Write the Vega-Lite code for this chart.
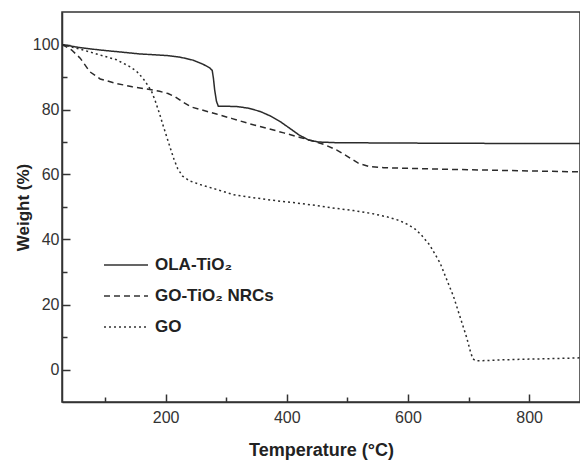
{
  "$schema": "https://vega.github.io/schema/vega-lite/v6.json",
  "autosize": {"type": "none"},
  "padding": {"left": 62, "top": 12, "right": 0, "bottom": 60},
  "width": 518,
  "height": 390,
  "background": "white",
  "config": {
    "view": {"stroke": "#333333", "strokeWidth": 1.5},
    "font": "Liberation Sans"
  },
  "data": {
    "values": [
      {"T": 29, "W": 100, "s": "OLA-TiO₂"},
      {"T": 60, "W": 99.0, "s": "OLA-TiO₂"},
      {"T": 92, "W": 98.3, "s": "OLA-TiO₂"},
      {"T": 125, "W": 97.7, "s": "OLA-TiO₂"},
      {"T": 157, "W": 97.1, "s": "OLA-TiO₂"},
      {"T": 185, "W": 96.8, "s": "OLA-TiO₂"},
      {"T": 202, "W": 96.6, "s": "OLA-TiO₂"},
      {"T": 224, "W": 96.1, "s": "OLA-TiO₂"},
      {"T": 245, "W": 95.2, "s": "OLA-TiO₂"},
      {"T": 262, "W": 93.9, "s": "OLA-TiO₂"},
      {"T": 273, "W": 92.8, "s": "OLA-TiO₂"},
      {"T": 277, "W": 92.0, "s": "OLA-TiO₂"},
      {"T": 279, "W": 89.5, "s": "OLA-TiO₂"},
      {"T": 281, "W": 86, "s": "OLA-TiO₂"},
      {"T": 284, "W": 82.5, "s": "OLA-TiO₂"},
      {"T": 287, "W": 81.0, "s": "OLA-TiO₂"},
      {"T": 300, "W": 81.0, "s": "OLA-TiO₂"},
      {"T": 318, "W": 80.9, "s": "OLA-TiO₂"},
      {"T": 337, "W": 80.4, "s": "OLA-TiO₂"},
      {"T": 356, "W": 79.4, "s": "OLA-TiO₂"},
      {"T": 373, "W": 78.0, "s": "OLA-TiO₂"},
      {"T": 389, "W": 76.3, "s": "OLA-TiO₂"},
      {"T": 405, "W": 74.2, "s": "OLA-TiO₂"},
      {"T": 420, "W": 72.2, "s": "OLA-TiO₂"},
      {"T": 436, "W": 70.6, "s": "OLA-TiO₂"},
      {"T": 452, "W": 70.0, "s": "OLA-TiO₂"},
      {"T": 480, "W": 69.8, "s": "OLA-TiO₂"},
      {"T": 560, "W": 69.7, "s": "OLA-TiO₂"},
      {"T": 680, "W": 69.6, "s": "OLA-TiO₂"},
      {"T": 884, "W": 69.5, "s": "OLA-TiO₂"},

      {"T": 29, "W": 100, "s": "GO-TiO₂ NRCs"},
      {"T": 45, "W": 98.3, "s": "GO-TiO₂ NRCs"},
      {"T": 59, "W": 95.8, "s": "GO-TiO₂ NRCs"},
      {"T": 75, "W": 91.6, "s": "GO-TiO₂ NRCs"},
      {"T": 92, "W": 89.4, "s": "GO-TiO₂ NRCs"},
      {"T": 119, "W": 88.0, "s": "GO-TiO₂ NRCs"},
      {"T": 145, "W": 87.0, "s": "GO-TiO₂ NRCs"},
      {"T": 169, "W": 86.3, "s": "GO-TiO₂ NRCs"},
      {"T": 190, "W": 85.6, "s": "GO-TiO₂ NRCs"},
      {"T": 204, "W": 84.9, "s": "GO-TiO₂ NRCs"},
      {"T": 216, "W": 83.9, "s": "GO-TiO₂ NRCs"},
      {"T": 229, "W": 82.2, "s": "GO-TiO₂ NRCs"},
      {"T": 242, "W": 80.8, "s": "GO-TiO₂ NRCs"},
      {"T": 257, "W": 80.0, "s": "GO-TiO₂ NRCs"},
      {"T": 284, "W": 78.6, "s": "GO-TiO₂ NRCs"},
      {"T": 310, "W": 77.2, "s": "GO-TiO₂ NRCs"},
      {"T": 339, "W": 75.6, "s": "GO-TiO₂ NRCs"},
      {"T": 370, "W": 74.1, "s": "GO-TiO₂ NRCs"},
      {"T": 395, "W": 72.8, "s": "GO-TiO₂ NRCs"},
      {"T": 422, "W": 71.4, "s": "GO-TiO₂ NRCs"},
      {"T": 443, "W": 70.3, "s": "GO-TiO₂ NRCs"},
      {"T": 462, "W": 69.2, "s": "GO-TiO₂ NRCs"},
      {"T": 482, "W": 67.6, "s": "GO-TiO₂ NRCs"},
      {"T": 500, "W": 65.6, "s": "GO-TiO₂ NRCs"},
      {"T": 518, "W": 63.5, "s": "GO-TiO₂ NRCs"},
      {"T": 537, "W": 62.4, "s": "GO-TiO₂ NRCs"},
      {"T": 560, "W": 62.1, "s": "GO-TiO₂ NRCs"},
      {"T": 600, "W": 61.9, "s": "GO-TiO₂ NRCs"},
      {"T": 664, "W": 61.6, "s": "GO-TiO₂ NRCs"},
      {"T": 720, "W": 61.4, "s": "GO-TiO₂ NRCs"},
      {"T": 800, "W": 61.1, "s": "GO-TiO₂ NRCs"},
      {"T": 884, "W": 60.8, "s": "GO-TiO₂ NRCs"},

      {"T": 29, "W": 100, "s": "GO"},
      {"T": 64, "W": 98.3, "s": "GO"},
      {"T": 86, "W": 97.1, "s": "GO"},
      {"T": 119, "W": 95.3, "s": "GO"},
      {"T": 140, "W": 93.3, "s": "GO"},
      {"T": 152, "W": 91.8, "s": "GO"},
      {"T": 163, "W": 89.5, "s": "GO"},
      {"T": 170, "W": 87.6, "s": "GO"},
      {"T": 177, "W": 85.5, "s": "GO"},
      {"T": 183, "W": 82.6, "s": "GO"},
      {"T": 190, "W": 78.7, "s": "GO"},
      {"T": 196, "W": 75.0, "s": "GO"},
      {"T": 202, "W": 71.5, "s": "GO"},
      {"T": 208, "W": 68.0, "s": "GO"},
      {"T": 214, "W": 64.6, "s": "GO"},
      {"T": 220, "W": 61.8, "s": "GO"},
      {"T": 228, "W": 59.5, "s": "GO"},
      {"T": 240, "W": 58.0, "s": "GO"},
      {"T": 257, "W": 56.9, "s": "GO"},
      {"T": 284, "W": 55.4, "s": "GO"},
      {"T": 312, "W": 53.8, "s": "GO"},
      {"T": 340, "W": 53.0, "s": "GO"},
      {"T": 367, "W": 52.3, "s": "GO"},
      {"T": 389, "W": 51.8, "s": "GO"},
      {"T": 422, "W": 51.1, "s": "GO"},
      {"T": 455, "W": 50.3, "s": "GO"},
      {"T": 480, "W": 49.6, "s": "GO"},
      {"T": 510, "W": 48.9, "s": "GO"},
      {"T": 540, "W": 48.0, "s": "GO"},
      {"T": 565, "W": 47.0, "s": "GO"},
      {"T": 585, "W": 45.9, "s": "GO"},
      {"T": 600, "W": 44.6, "s": "GO"},
      {"T": 612, "W": 43.2, "s": "GO"},
      {"T": 622, "W": 41.4, "s": "GO"},
      {"T": 636, "W": 38.3, "s": "GO"},
      {"T": 653, "W": 32.8, "s": "GO"},
      {"T": 665, "W": 27.2, "s": "GO"},
      {"T": 675, "W": 22.6, "s": "GO"},
      {"T": 686, "W": 16.2, "s": "GO"},
      {"T": 697, "W": 9.8, "s": "GO"},
      {"T": 703, "W": 5.6, "s": "GO"},
      {"T": 707, "W": 3.3, "s": "GO"},
      {"T": 712, "W": 2.7, "s": "GO"},
      {"T": 722, "W": 2.7, "s": "GO"},
      {"T": 760, "W": 3.0, "s": "GO"},
      {"T": 800, "W": 3.2, "s": "GO"},
      {"T": 850, "W": 3.4, "s": "GO"},
      {"T": 884, "W": 3.6, "s": "GO"}
    ]
  },
  "mark": {"type": "line", "color": "#2b2b2b", "strokeWidth": 1.5, "clip": true},
  "encoding": {
    "x": {
      "field": "T", "type": "quantitative",
      "scale": {"domain": [29, 884], "nice": false, "zero": false},
      "axis": {
        "title": "Temperature (°C)",
        "values": [100, 200, 300, 400, 500, 600, 700, 800],
        "labelExpr": "datum.value % 200 === 0 ? datum.label : ''",
        "grid": false,
        "domainColor": "#333333", "domainWidth": 1.5,
        "tickColor": "#333333", "tickWidth": 1.5,
        "tickSize": {"condition": {"test": "datum.value % 200 === 0", "value": -8}, "value": -5},
        "labelPadding": 15,
        "labelFontSize": 16, "labelColor": "#333333",
        "titleFontSize": 18, "titleFontWeight": "bold", "titleColor": "#222222",
        "titlePadding": 16
      }
    },
    "y": {
      "field": "W", "type": "quantitative",
      "scale": {"domain": [-10, 110], "nice": false, "zero": false},
      "axis": {
        "title": "Weight (%)",
        "values": [0, 10, 20, 30, 40, 50, 60, 70, 80, 90, 100],
        "labelExpr": "datum.value % 20 === 0 ? datum.label : ''",
        "grid": false,
        "domainColor": "#333333", "domainWidth": 1.5,
        "tickColor": "#333333", "tickWidth": 1.5,
        "tickSize": {"condition": {"test": "datum.value % 20 === 0", "value": -8}, "value": -5},
        "labelPadding": 11,
        "labelFontSize": 16, "labelColor": "#333333",
        "titleFontSize": 17, "titleFontWeight": "bold", "titleColor": "#222222",
        "titlePadding": 0
      }
    },
    "strokeDash": {
      "field": "s", "type": "nominal",
      "scale": {
        "domain": ["OLA-TiO₂", "GO-TiO₂ NRCs", "GO"],
        "range": [[1, 0], [6, 4], [2, 3]]
      },
      "legend": {
        "title": null,
        "orient": "none",
        "legendX": 41,
        "legendY": 230,
        "padding": 0,
        "symbolType": "stroke",
        "symbolSize": 1936,
        "symbolStrokeWidth": 1.3,
        "symbolStrokeColor": "#333333",
        "labelFontSize": 17,
        "labelFontWeight": "bold",
        "labelColor": "#222222",
        "labelOffset": 6,
        "rowPadding": -1
      }
    }
  }
}
